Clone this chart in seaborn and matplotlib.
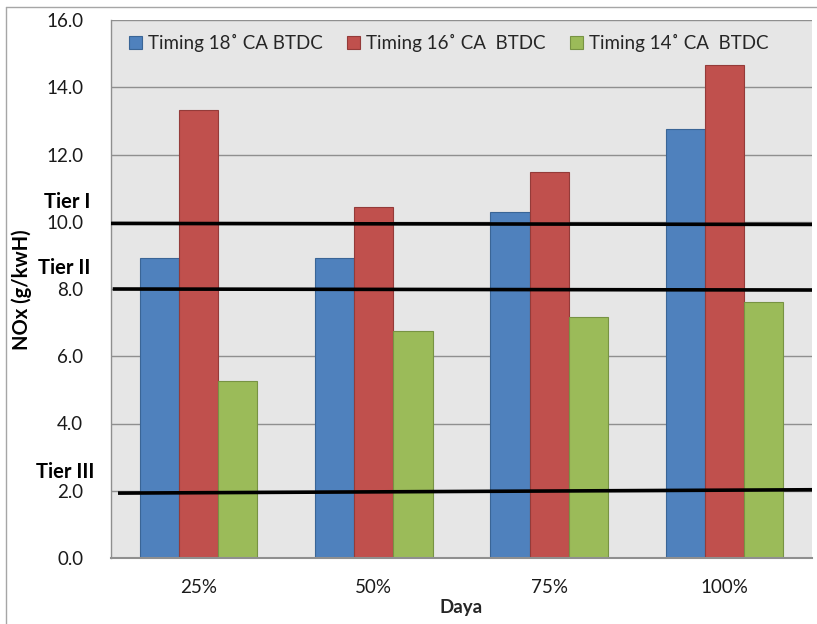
import matplotlib
matplotlib.use("Agg")
import matplotlib.pyplot as plt
import matplotlib.transforms as mtransforms
from matplotlib.lines import Line2D
import seaborn as sns
import pandas as pd

# Engine load categories and measured NOx per injection timing
loads = ["25%", "50%", "75%", "100%"]
timing_labels = ["Timing 18˚ CA BTDC", "Timing 16˚ CA  BTDC", "Timing 14˚ CA  BTDC"]
nox_18 = [8.93, 8.93, 10.30, 12.77]
nox_16 = [13.33, 10.45, 11.49, 14.67]
nox_14 = [5.27, 6.76, 7.17, 7.62]

# Emission limits (start / end level of each drawn limit line)
tier_names = ["Tier I", "Tier II", "Tier III"]
tier_start = [9.95, 8.0, 1.93]
tier_end = [9.92, 7.97, 2.03]

colors = ["#4F81BD", "#C0504D", "#9BBB59"]
edges = ["#3A6596", "#943B39", "#779343"]

rows = []
for lab, vals in zip(timing_labels, [nox_18, nox_16, nox_14]):
    for ld, v in zip(loads, vals):
        rows.append({"Daya": ld, "Timing": lab, "NOx": v})
df = pd.DataFrame(rows)

sns.set_theme(style="white")
plt.rcParams["font.family"] = ["Lato", "DejaVu Sans"]

FS = 13.5

fig = plt.figure(figsize=(8.17, 6.24), dpi=100)
ax = fig.add_axes([111 / 817, 1 - 558 / 624, 701 / 817, 538 / 624])
ax.set_facecolor("#E6E6E6")

sns.barplot(data=df, x="Daya", y="NOx", hue="Timing", order=loads,
            hue_order=timing_labels, palette=colors, width=0.67,
            saturation=1, ax=ax, legend=True)

for cont, ec in zip(ax.containers, edges):
    for bar in cont:
        bar.set_edgecolor(ec)
        bar.set_linewidth(0.8)

ax.set_ylim(0, 16)
ax.set_xlim(-0.5, 3.5)
ax.set_yticks(range(0, 17, 2))
ax.set_yticklabels([f"{v:.1f}" for v in range(0, 17, 2)])
ax.yaxis.grid(True, color="#8F8F8F", linewidth=1.0)
ax.set_axisbelow(True)
ax.tick_params(axis="y", length=0, pad=20, labelsize=FS, labelcolor="#1A1A1A")
ax.tick_params(axis="x", length=0, pad=15, labelsize=FS, labelcolor="#1A1A1A")

for side in ["top", "right"]:
    ax.spines[side].set_visible(False)
ax.spines["left"].set_color("#8F8F8F")
ax.spines["left"].set_linewidth(1.0)
ax.spines["bottom"].set_color("#8F8F8F")
ax.spines["bottom"].set_linewidth(1.5)

ax.set_xlabel("Daya", fontsize=FS, fontweight="bold", labelpad=2)
ax.set_ylabel("")
# Axis title for the value axis
fig.text(22 / 817, 1 - 290 / 624, "NOx (g/kwH)", rotation=90, ha="center",
         va="center", fontsize=14.5, fontweight="bold", color="black")

# Limit lines with their labels
x_starts = [-0.5, -0.49, -0.46]
for name, y0, y1, xs in zip(tier_names, tier_start, tier_end, x_starts):
    ax.plot([xs, 3.5], [y0, y1], color="black", linewidth=2.6,
            solid_capstyle="butt", clip_on=False, zorder=5)
    trans = mtransforms.blended_transform_factory(ax.transAxes, ax.transData)
    xoff = -17 if name == "Tier III" else -21
    ax.annotate(name, xy=(0, y0), xycoords=trans, xytext=(xoff, 21),
                textcoords="offset pixels", ha="right", va="center",
                fontsize=14.5, fontweight="bold", color="black")

leg = ax.legend(loc="upper left", bbox_to_anchor=(0.01, 0.995), ncol=3,
                frameon=False, fontsize=FS, handlelength=0.7, handleheight=0.7,
                handletextpad=0.3, columnspacing=1.3, borderaxespad=0.2)
for h, ec in zip(leg.legend_handles, edges):
    h.set_edgecolor(ec)
    h.set_linewidth(0.8)

# Thin outer frame of the chart area
fig.add_artist(Line2D([5.5 / 817, 5.5 / 817], [0, 1 - 7 / 624],
                      transform=fig.transFigure, color="#A6A6A6", linewidth=1))
fig.add_artist(Line2D([5.5 / 817, 1], [1 - 7 / 624, 1 - 7 / 624],
                      transform=fig.transFigure, color="#A6A6A6", linewidth=1))

fig.savefig("out.png", dpi=100)
